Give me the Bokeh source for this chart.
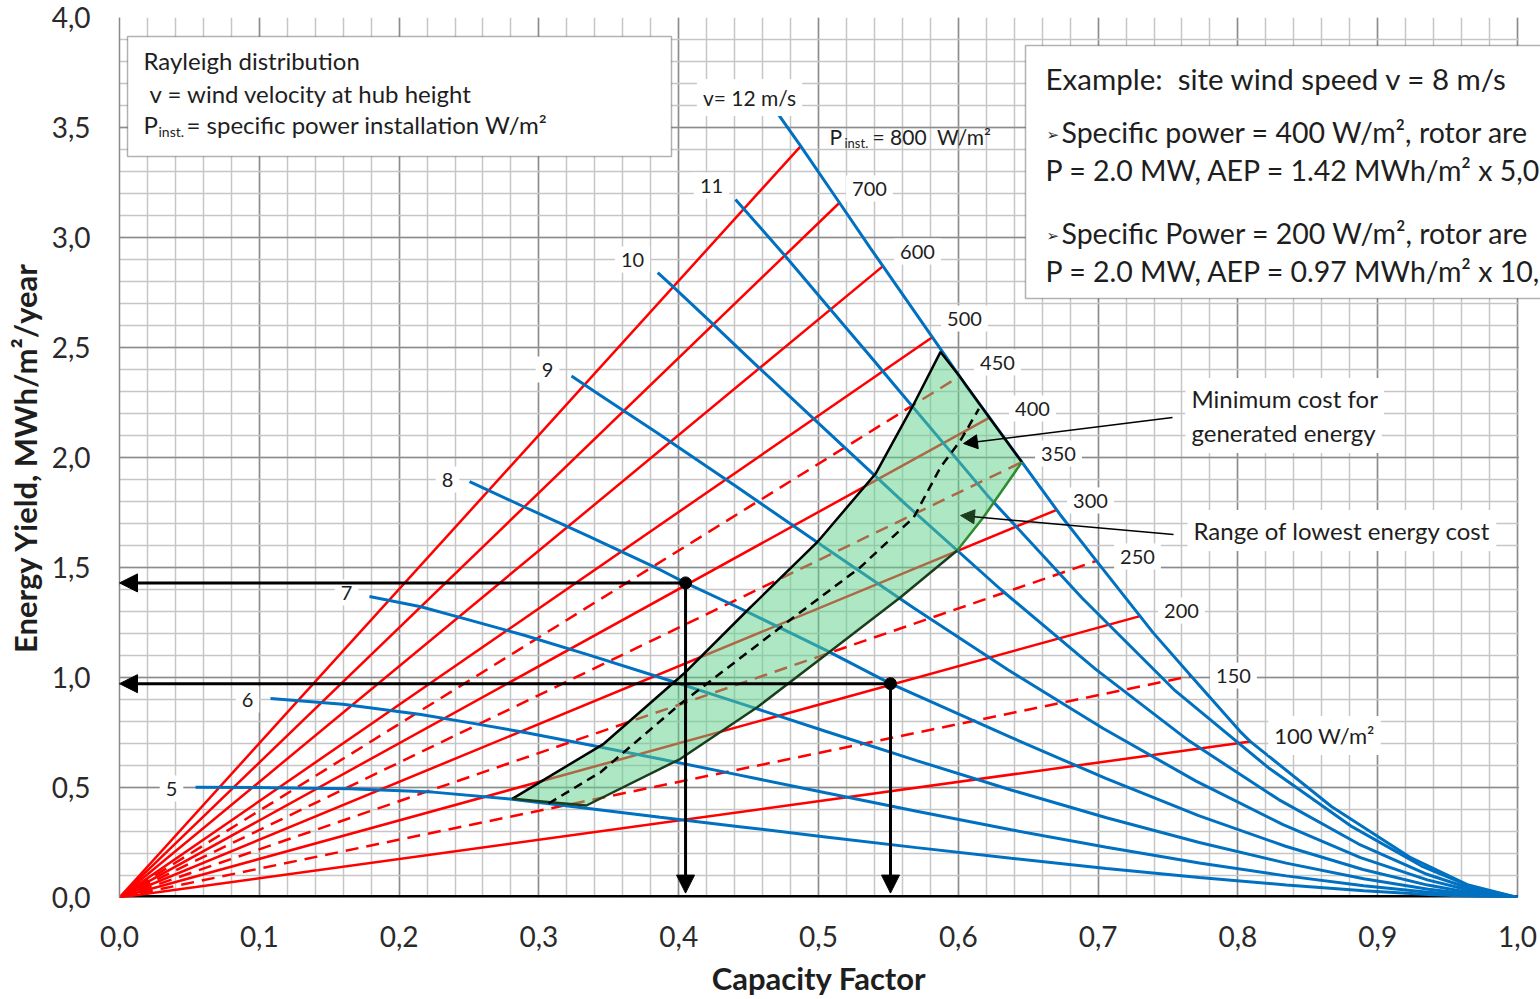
import math
from bokeh.plotting import figure
from bokeh.models import (Label, BoxAnnotation, Arrow, NormalHead, FixedTicker,
                          CustomJSTickFormatter)
from bokeh.embed import file_html
from bokeh.resources import INLINE

# ------------------------------------------------------------------ data
x_ticks = [0.0, 0.1, 0.2, 0.3, 0.4, 0.5, 0.6, 0.7, 0.8, 0.9, 1.0]
y_ticks = [0.0, 0.5, 1.0, 1.5, 2.0, 2.5, 3.0, 3.5, 4.0]
x_minor_ticks = [round(i * 0.02, 2) for i in range(51)]
y_minor_ticks = [round(i * 0.1, 1) for i in range(41)]

# red lines: specific power installation (W/m2), end point on the v=12 curve
specific_power = [800, 700, 600, 500, 450, 400, 350, 300, 250, 200, 150, 100]
power_dashed = [False, False, False, False, True, False, True, False, True, False, True, False]
power_end_cf = [0.4873, 0.515, 0.5461, 0.5814, 0.6009, 0.6223, 0.6455, 0.6704, 0.6988, 0.730, 0.7665, 0.809]
power_end_yield = [3.415, 3.158, 2.870, 2.547, 2.369, 2.181, 1.979, 1.762, 1.530, 1.279, 1.007, 0.7087]
power_labels = ["", "700", "600", "500", "450", "400", "350", "300", "250", "200", "150", "100 W/m\u00b2"]

# blue lines: Rayleigh wind speed at hub height (m/s)
wind_speed = [5, 6, 7, 8, 9, 10, 11, 12]
wind_labels = ["5", "6", "7", "8", "9", "10", "11", "v= 12 m/s"]
cf_v5 = [0.0544, 0.110, 0.1645, 0.2241, 0.2809, 0.3355, 0.3868, 0.4435, 0.505, 0.5702, 0.6378, 0.706, 0.7724, 0.8346, 0.890, 0.9362, 0.971, 1.0]
ey_v5 = [0.501, 0.499, 0.494, 0.479, 0.447, 0.405, 0.3645, 0.3219, 0.2754, 0.2267, 0.1781, 0.1321, 0.091, 0.0569, 0.0311, 0.0138, 0.0043, 0.0]
cf_v6 = [0.108, 0.1598, 0.2156, 0.2499, 0.2901, 0.3355, 0.3868, 0.4435, 0.505, 0.5702, 0.6378, 0.706, 0.7724, 0.8346, 0.890, 0.9362, 0.971, 1.0]
ey_v6 = [0.905, 0.8782, 0.8322, 0.7948, 0.7502, 0.6947, 0.6299, 0.5563, 0.4759, 0.3917, 0.3077, 0.2282, 0.1572, 0.0983, 0.0537, 0.0239, 0.0073, 0.0]
cf_v7 = [0.1788, 0.2156, 0.2499, 0.2901, 0.3355, 0.3868, 0.4435, 0.505, 0.5702, 0.6378, 0.706, 0.7724, 0.8346, 0.890, 0.9362, 0.971, 1.0]
ey_v7 = [1.368, 1.3215, 1.262, 1.191, 1.103, 1.000, 0.8834, 0.7557, 0.6221, 0.4887, 0.3624, 0.2497, 0.1562, 0.0853, 0.0378, 0.0116, 0.0]
cf_v8 = [0.2504, 0.2896, 0.335, 0.3863, 0.4049, 0.443, 0.5045, 0.5515, 0.6373, 0.7055, 0.7719, 0.8341, 0.8895, 0.9357, 0.9705, 1.0]
ey_v8 = [1.89, 1.775, 1.644, 1.491, 1.43, 1.317, 1.127, 0.972, 0.729, 0.541, 0.372, 0.233, 0.127, 0.0564, 0.0173, 0.0]
cf_v9 = [0.3233, 0.3433, 0.3845, 0.4412, 0.5027, 0.5679, 0.6355, 0.7037, 0.7701, 0.8323, 0.8877, 0.9355, 0.9707, 1.0]
ey_v9 = [2.37, 2.285, 2.113, 1.868, 1.599, 1.317, 1.035, 0.768, 0.529, 0.331, 0.181, 0.080, 0.0247, 0.0]
cf_v10 = [0.385, 0.3965, 0.4251, 0.4537, 0.4976, 0.5628, 0.6304, 0.6986, 0.765, 0.8292, 0.8864, 0.9341, 0.9701, 1.0]
ey_v10 = [2.84, 2.773, 2.603, 2.43, 2.17, 1.785, 1.40, 1.036, 0.712, 0.445, 0.243, 0.108, 0.033, 0.0]
cf_v11 = [0.4406, 0.4466, 0.4759, 0.5086, 0.5396, 0.5529, 0.6205, 0.6887, 0.7551, 0.8220, 0.8816, 0.9314, 0.9688, 1.0]
ey_v11 = [3.173, 3.13, 2.918, 2.673, 2.441, 2.34, 1.83, 1.36, 0.94, 0.589, 0.322, 0.143, 0.044, 0.0]
cf_v12 = [0.4685, 0.4873, 0.515, 0.5371, 0.5461, 0.5814, 0.6009, 0.6047, 0.6223, 0.6455, 0.6704, 0.6729,
          0.6988, 0.730, 0.7393, 0.7665, 0.8015, 0.809, 0.8669, 0.9228, 0.9648, 1.0]
ey_v12 = [3.585, 3.415, 3.158, 2.952, 2.870, 2.547, 2.369, 2.334, 2.181, 1.979, 1.762, 1.740,
          1.530, 1.279, 1.204, 1.007, 0.7553, 0.7087, 0.4135, 0.1838, 0.0566, 0.0]

# range of lowest energy cost (closed outline)
range_cf = [0.2809, 0.3464, 0.4036, 0.4490, 0.4991, 0.5408, 0.5670, 0.5873, 0.6009, 0.6223, 0.6455,
            0.6180, 0.5992, 0.5587, 0.5062, 0.4562, 0.4013, 0.3340]
range_yield = [0.4486, 0.6986, 1.0168, 1.3045, 1.6150, 1.9259, 2.2286, 2.48, 2.369, 2.181, 1.979,
               1.7286, 1.5773, 1.3650, 1.1077, 0.8650, 0.6305, 0.4182]
# minimum cost for generated energy
mincost_cf = [0.3069, 0.3441, 0.4013, 0.4823, 0.5300, 0.5682, 0.5873, 0.6016, 0.6147]
mincost_yield = [0.4273, 0.5695, 0.8805, 1.2741, 1.5014, 1.7286, 1.9559, 2.0773, 2.2214]

# example: site wind speed v = 8 m/s
example_cf = [0.4049, 0.5515]
example_yield = [1.43, 0.972]

# ------------------------------------------------------------------ style
FONT = "Lato"
TEXT = "#1e1e1e"
RED = "#ff0000"
BLUE = "#0070c0"
W, H = 1540, 999
FRAME_L, FRAME_T, FRAME_R, FRAME_B = 119, 17, 1517, 897
X_END = 1.0 + (W - FRAME_R) / (FRAME_R - FRAME_L)


def X(px):
    return (px - FRAME_L) / float(FRAME_R - FRAME_L)


def Y(py):
    return (FRAME_B - py) / ((FRAME_B - FRAME_T) / 4.0)


p = figure(width=W, height=H, x_range=(0, X_END), y_range=(0, 4),
           output_backend="svg", toolbar_location=None,
           min_border_left=FRAME_L, min_border_right=0, min_border_top=FRAME_T,
           min_border_bottom=H - FRAME_B)
p.background_fill_color = "white"
p.border_fill_color = "white"
p.outline_line_color = None

xt = FixedTicker(ticks=x_ticks, minor_ticks=x_minor_ticks)
yt = FixedTicker(ticks=y_ticks, minor_ticks=y_minor_ticks)
p.xaxis.ticker = xt
p.yaxis.ticker = yt
p.xgrid.ticker = xt
p.ygrid.ticker = yt
fmt = "return tick.toFixed(1).replace('.', ',');"
p.xaxis.formatter = CustomJSTickFormatter(code=fmt)
p.yaxis.formatter = CustomJSTickFormatter(code=fmt)
for g in (p.xgrid, p.ygrid):
    g.grid_line_color = "#8c8c8c"
    g.grid_line_width = 1.5
    g.minor_grid_line_color = "#c6c6c6"
    g.minor_grid_line_width = 1.5
for ax in (p.xaxis, p.yaxis):
    ax.major_tick_line_color = None
    ax.minor_tick_line_color = None
    ax.major_label_text_font = FONT
    ax.major_label_text_font_size = "28px"
    ax.major_label_text_color = "#2a2a2a"
    ax.axis_label_text_font = FONT
    ax.axis_label_text_font_size = "31px"
    ax.axis_label_text_font_style = "bold"
    ax.axis_label_text_color = TEXT
p.xaxis.axis_line_color = None
p.xaxis.major_label_standoff = 22
# trailing no-break spaces re-centre the title on the 0..1 span of the axis
p.xaxis.axis_label = "Capacity Factor\u00a0\u00a0\u00a0"
p.xaxis.axis_label_standoff = 9
p.yaxis.axis_line_color = "#8a8a8a"
p.yaxis.axis_line_width = 1.5
p.yaxis.major_label_standoff = 23
p.yaxis.axis_label = "Energy Yield, MWh/m\u00b2/year"
p.yaxis.axis_label_standoff = 5

# bottom axis line (capacity factor 0..1)
p.line([x_ticks[0], x_ticks[-1]], [y_ticks[0], y_ticks[0]], line_color="black", line_width=5)

# red specific-power lines from the origin
for pw, dashed, cfe, eye in zip(specific_power, power_dashed, power_end_cf, power_end_yield):
    p.line([0.0, cfe], [0.0, eye], line_color=RED, line_width=2.5,
           line_dash="13 8" if dashed else "solid")

# blue wind-speed curves
curves = [(cf_v5, ey_v5), (cf_v6, ey_v6), (cf_v7, ey_v7), (cf_v8, ey_v8),
          (cf_v9, ey_v9), (cf_v10, ey_v10), (cf_v11, ey_v11), (cf_v12, ey_v12)]
for cfs, eys in curves:
    p.line(cfs, eys, line_color=BLUE, line_width=3)

# range of lowest energy cost
p.patch(range_cf, range_yield, fill_color="#5ccf8a", fill_alpha=0.5, line_color=None)
upper_n = 8
p.line(range_cf[:upper_n] + [range_cf[upper_n]], range_yield[:upper_n] + [range_yield[upper_n]],
       line_color="black", line_width=2.5)
p.line(range_cf[upper_n:11], range_yield[upper_n:11], line_color="black", line_width=2.5)
p.line(range_cf[10:13], range_yield[10:13], line_color="#2e8b2e", line_width=2.5)
p.line(range_cf[12:] + [range_cf[0]], range_yield[12:] + [range_yield[0]],
       line_color="#1c3d1c", line_width=2.5)
p.line(mincost_cf, mincost_yield, line_color="black", line_width=2.5, line_dash="9 6")

p.scatter(example_cf, example_yield, size=12, color="black")


def add_text(txt, px, py, size=20, align="center", bold=False, bg=False,
             color=TEXT, font=FONT, angle=0.0):
    lab = Label(x=X(px), y=Y(py), text=txt, text_font=font, text_font_size=f"{size}px",
                text_align=align, text_baseline="middle", text_color=color,
                text_font_style="bold" if bold else "normal", angle=angle)
    if bg:
        lab.background_fill_color = "white"
        lab.padding = 6
    p.add_layout(lab)


# white margin strip right of the plot area
p.add_layout(BoxAnnotation(left=X(FRAME_R + 1.5), right=X_END + 0.05, top=4.5, bottom=-0.5,
                           fill_color="white", fill_alpha=1.0, line_color=None))
# boxes
p.add_layout(BoxAnnotation(left=X(127), right=X(671), top=Y(36), bottom=Y(156),
                           fill_color="white", fill_alpha=1.0, line_color="black", line_width=1.5))
p.add_layout(BoxAnnotation(left=X(1025), right=X_END + 0.05, top=Y(45), bottom=Y(298),
                           fill_color="white", fill_alpha=1.0, line_color="black", line_width=1.5))

add_text("Rayleigh distribution", 143, 60, size=24, align="left")
add_text("v = wind velocity at hub height", 149, 93, size=24, align="left")
add_text("P", 143, 124, size=24, align="left")
add_text("inst.", 158, 131, size=14, align="left")
add_text("= specific power installation W/m\u00b2", 186, 124, size=24, align="left")

add_text("Example:\u00a0 site wind speed v = 8 m/s", 1045, 78, size=29.5, align="left")
add_text("\u27a2", 1046, 134, size=15, align="left", font="DejaVu Sans")
add_text("Specific power = 400 W/m\u00b2, rotor are", 1061, 131, size=28.5, align="left")
add_text("P = 2.0 MW, AEP = 1.42 MWh/m\u00b2 x 5,0", 1045, 169, size=28.5, align="left")
add_text("\u27a2", 1046, 235, size=15, align="left", font="DejaVu Sans")
add_text("Specific Power = 200 W/m\u00b2, rotor are", 1061, 232, size=28.5, align="left")
add_text("P = 2.0 MW, AEP = 0.97 MWh/m\u00b2 x 10,", 1045, 270, size=28.5, align="left")

# curve labels
wind_label_px = [(171, 788), (247, 699), (346, 592), (447, 479), (547, 369), (632, 259), (711, 185), (749, 97)]
for txt, (lx, ly) in zip(wind_labels, wind_label_px):
    add_text(txt, lx, ly, size=(21 if len(txt) > 2 else 20), bg=True)
power_label_px = [(0, 0), (869, 188), (917, 251), (964, 318), (997, 362), (1032, 408), (1058, 453),
                  (1090, 500), (1137, 556), (1181, 610), (1233, 675), (1324, 735)]
for txt, (lx, ly) in zip(power_labels, power_label_px):
    if txt:
        add_text(txt, lx, ly, size=(22 if len(txt) > 3 else 20), bg=True)
add_text("P", 829, 136, size=21, align="left")
add_text("inst.", 844, 142, size=13, align="left")
add_text("= 800\u00a0 W/m\u00b2", 872, 136, size=21, align="left")

add_text("Minimum cost for", 1185, 398, size=24, align="left", bg=True)
add_text("generated energy", 1185, 432, size=24, align="left", bg=True)
add_text("Range of lowest energy cost", 1187, 530, size=24, align="left", bg=True)

# pointer arrows
p.add_layout(Arrow(x_start=X(1172), y_start=Y(417), x_end=X(963), y_end=Y(443),
                   line_color="black", line_width=1.5,
                   end=NormalHead(size=14, fill_color="black", line_color="black")))
p.add_layout(Arrow(x_start=X(1173), y_start=Y(534), x_end=X(960), y_end=Y(515),
                   line_color="black", line_width=1.5,
                   end=NormalHead(size=14, fill_color="#1c3d1c", line_color="#1c3d1c")))

# example arrows
for cfx, eyx in zip(example_cf, example_yield):
    p.add_layout(Arrow(x_start=cfx, y_start=eyx, x_end=0.0, y_end=eyx,
                       line_color="black", line_width=3,
                       end=NormalHead(size=18, fill_color="black", line_color="black")))
    p.add_layout(Arrow(x_start=cfx, y_start=eyx, x_end=cfx, y_end=0.02,
                       line_color="black", line_width=3,
                       end=NormalHead(size=18, fill_color="black", line_color="black")))

open("out.html", "w").write(file_html(p, INLINE))
